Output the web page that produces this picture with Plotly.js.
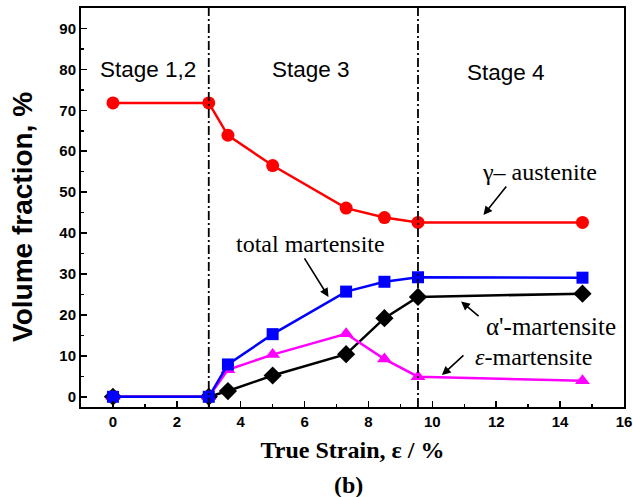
<!DOCTYPE html>
<html>
<head>
<meta charset="utf-8">
<script src="https://cdn.plot.ly/plotly-3.0.1.min.js"></script>
<style>
  html, body { margin: 0; padding: 0; background: #fff; }
  #chart { width: 633px; height: 497px; }
</style>
</head>
<body>
<div id="chart"></div>
<script>
// True strain (%) at which phase fractions were measured
const strain = [0, 3, 3.6, 5, 7.3, 8.5, 9.55, 14.7];

// Volume fractions (%)
const austenite = [71.8, 71.8, 63.9, 56.5, 46.1, 43.8, 42.6, 42.6];
const totalMartensite = [0, 0, 7.9, 15.3, 25.7, 28.1, 29.2, 29.1];
const alphaMartensite = [0, 0, 1.4, 5.2, 10.4, 19.2, 24.4, 25.2];
const epsMartensite = [0, 0, 6.6, 10.3, 15.4, 9.2, 4.9, 3.9];

// Strain values separating the deformation stages
const stageBounds = [3, 9.55];
const stageLabels = ['Stage 1,2', 'Stage 3', 'Stage 4'];

// Axis tick values
const xTicks = [0, 2, 4, 6, 8, 10, 12, 14, 16];
const yTicks = [0, 10, 20, 30, 40, 50, 60, 70, 80, 90];

const SANS = 'Liberation Sans, Arial, sans-serif';
const SERIF = 'Liberation Serif, Times New Roman, serif';

function series(y, color, symbol, size) {
  return {
    x: strain, y: y, type: 'scatter', mode: 'lines+markers',
    line: { color: color, width: 2.5 },
    marker: { color: color, symbol: symbol, size: size },
    showlegend: false, cliponaxis: false
  };
}

const traces = [
  series(austenite, '#ff0000', 'circle', 13),
  series(alphaMartensite, '#000000', 'diamond', 14),
  series(epsMartensite, '#ff00ff', 'triangle-up', 13),
  series(totalMartensite, '#0000ff', 'square', 12)
];

const shapes = stageBounds.map(b => ({
  type: 'line', xref: 'x', yref: 'paper', x0: b, x1: b, y0: 0, y1: 1.008,
  line: { color: '#000', width: 1.8, dash: '9px,3px,2px,3px' }
}));

// Stage names across the top of the plot
const stageX = [1.1, 6.2, 12.3];
const annotations = stageLabels.map((t, i) => ({
  text: t, x: stageX[i], y: i === 2 ? 79.3 : 80, xref: 'x', yref: 'y',
  showarrow: false, font: { family: SANS, size: 22.5, color: '#000' }
}));

function label(text, x, y, size) {
  return { text: text, x: x, y: y, xref: 'x', yref: 'y', showarrow: false,
           font: { family: SERIF, size: size, color: '#000' } };
}
function pointer(x, y, ax, ay) {
  return { text: '', x: x, y: y, xref: 'x', yref: 'y', ax: ax, ay: ay,
           showarrow: true, arrowhead: 2, arrowsize: 1.1, arrowwidth: 1.6,
           arrowcolor: '#000', standoff: 0 };
}

// Curve labels with their pointer arrows
annotations.push(
  label('γ– austenite', 13.34, 55.0, 24),
  pointer(11.6, 44.4, 24, -30),
  label('total martensite', 6.2, 37.3, 24),
  pointer(6.75, 24.4, -25, -40),
  label('α\'-martensite', 13.73, 17.1, 25),
  pointer(10.9, 23.3, 19, 16),
  label('<i>ε</i>-martensite', 13.16, 9.6, 24),
  pointer(10.3, 5.3, 23, -21)
);

// Y-axis title and panel tag
annotations.push(
  { text: '<b>Volume fraction, %</b>', xref: 'paper', yref: 'paper',
    x: -0.109, y: 0.476, xanchor: 'center', yanchor: 'middle', textangle: -90,
    showarrow: false, font: { family: SANS, size: 28, color: '#000' } },
  { text: '<b>(b)</b>', xref: 'paper', yref: 'paper', x: 0.492, y: -0.196,
    xanchor: 'center', yanchor: 'middle',
    showarrow: false, font: { family: SERIF, size: 24, color: '#000' } }
);

const tickFont = { family: SANS, size: 15, color: '#000' };

const layout = {
  width: 633, height: 497,
  margin: { l: 81, r: 9, t: 8, b: 90 },
  paper_bgcolor: '#fff', plot_bgcolor: '#fff',
  xaxis: {
    range: [-1, 16], tickmode: 'array', tickvals: xTicks,
    ticktext: xTicks.map(v => '<b>' + v + '</b>'),
    ticks: 'inside', ticklen: 6, tickwidth: 1.5, tickcolor: '#000',
    minor: { dtick: 1, tick0: 0, ticks: 'inside', ticklen: 3, tickwidth: 1.5, tickcolor: '#000' },
    showline: true, linewidth: 2, linecolor: '#000', mirror: true,
    showgrid: false, zeroline: false,
    tickfont: tickFont,
    title: { text: '<b>True Strain, ε / %</b>', standoff: 12,
             font: { family: SERIF, size: 24, color: '#000' } }
  },
  yaxis: {
    range: [-2.5, 95], tickmode: 'array', tickvals: yTicks,
    ticktext: yTicks.map(v => '<b>' + v + '</b>'),
    ticks: 'inside', ticklen: 6, tickwidth: 1.5, tickcolor: '#000',
    minor: { dtick: 5, tick0: 0, ticks: 'inside', ticklen: 3, tickwidth: 1.5, tickcolor: '#000' },
    showline: true, linewidth: 2, linecolor: '#000', mirror: true,
    showgrid: false, zeroline: false,
    tickfont: tickFont
  },
  shapes: shapes,
  annotations: annotations
};

Plotly.newPlot('chart', traces, layout, { staticPlot: true, displayModeBar: false });
</script>
</body>
</html>
